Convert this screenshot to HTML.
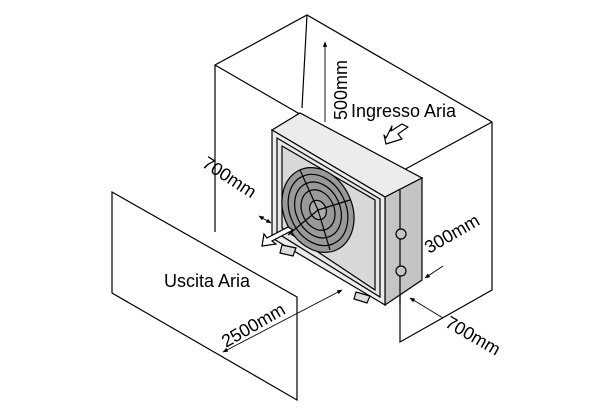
<!DOCTYPE html>
<html><head><meta charset="utf-8"><style>
html,body{margin:0;padding:0;background:#fff;width:600px;height:410px;overflow:hidden}
svg text{font-family:"Liberation Sans",sans-serif;fill:#000}
</style></head><body>
<svg width="600" height="410" viewBox="0 0 600 410" xmlns="http://www.w3.org/2000/svg">
<defs>
<marker id="a" viewBox="0 0 10 10" refX="9" refY="5" markerWidth="6" markerHeight="6" orient="auto-start-reverse"><path d="M0,1 L10,5 L0,9 z" fill="#000"/></marker>
</defs>
<g stroke="#000" stroke-width="1.2" fill="none">
<polyline points="215,232 215,65 307,15 492,122 492,290 400,342 400,172 215,65"/>
<line x1="400" y1="172" x2="492" y2="122"/>
<line x1="307" y1="15" x2="302" y2="108"/>
<polygon points="112,192 297,297 297,400 112,293"/>
</g>
<g stroke="#000" stroke-width="1.2">
<polygon points="272,130 300,113 422,178 385,197" fill="#ececec"/>
<polygon points="385,197 422,178 422,280 385,305" fill="#c4c4c4"/>
<polygon points="272,130 385,197 385,305 272,238" fill="#ececec"/>
<polygon points="277,138 380,199 380,297 277,233" fill="#e6e6e6"/>
<polygon points="282,146 375,200 375,290 282,228" fill="#d8d8d8"/>
<ellipse cx="318" cy="210" rx="34" ry="44" transform="rotate(-25 318 210)" fill="#999"/>
<ellipse cx="318" cy="210" rx="28" ry="37" transform="rotate(-25 318 210)" fill="none"/>
<ellipse cx="318" cy="210" rx="22" ry="29" transform="rotate(-25 318 210)" fill="none"/>
<ellipse cx="318" cy="210" rx="16" ry="21" transform="rotate(-25 318 210)" fill="none"/>
<ellipse cx="318" cy="210" rx="8" ry="10" transform="rotate(-25 318 210)" fill="#aaa"/>
<line x1="318" y1="210" x2="300" y2="170"/><line x1="318" y1="210" x2="350" y2="200"/><line x1="318" y1="210" x2="330" y2="250"/><line x1="318" y1="210" x2="288" y2="235"/>
<line x1="400" y1="190" x2="400" y2="305" fill="none"/>
<circle cx="401" cy="234" r="5" fill="#c4c4c4"/>
<circle cx="401" cy="271" r="5" fill="#c4c4c4"/>
<polygon points="282,245 296,248 293,256 280,253" fill="#ddd"/>
<polygon points="356,292 370,296 367,303 354,299" fill="#ddd"/>
<polygon points="408,127 398,134 402,139 386,144 384,135 386,138 392,126 391,131 402,124" fill="#fff" stroke-linejoin="round"/>
<polygon points="293,230 272,241 276,244 262,246 264,234 267,238 288,227" fill="#fff"/>
</g>
<g stroke="#000" stroke-width="0.9" fill="none">
<line x1="325" y1="42" x2="325" y2="122" marker-start="url(#a)"/>
<line x1="223" y1="352" x2="342" y2="290" marker-start="url(#a)" marker-end="url(#a)"/>
<line x1="425" y1="278" x2="443" y2="266" marker-start="url(#a)"/>
<line x1="410" y1="298" x2="443" y2="318" marker-start="url(#a)"/>
<line x1="259" y1="216" x2="271" y2="223" marker-start="url(#a)" marker-end="url(#a)"/>
</g>
<g font-size="18">
<text x="351" y="117">Ingresso Aria</text>
<text x="164" y="287">Uscita Aria</text>
<text transform="translate(347,120) rotate(-90)">500mm</text>
<text transform="translate(201,166) rotate(33)">700mm</text>
<text transform="translate(429,254) rotate(-30)">300mm</text>
<text transform="translate(444,326) rotate(30)">700mm</text>
<text transform="translate(226,348) rotate(-30)">2500mm</text>
</g>
</svg>
</body></html>
